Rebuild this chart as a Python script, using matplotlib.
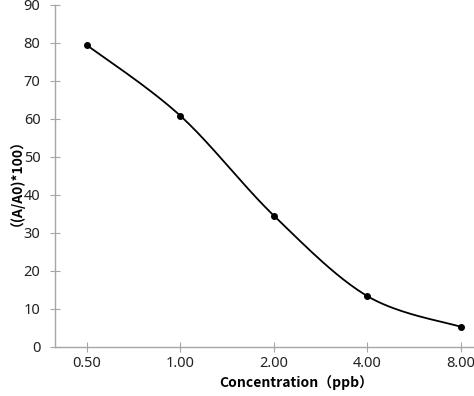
import numpy as np
import matplotlib
matplotlib.use('Agg')
import matplotlib.pyplot as plt

# dados
categorias = ['0.50', '1.00', '2.00', '4.00', '8.00']
valores = [79.5, 60.9, 34.6, 13.4, 5.3]


def curva_suave(x, y, n=40):
    # spline estilo Excel (bezier com pontos de controle catmull-rom)
    x = np.asarray(x, float)
    y = np.asarray(y, float)
    px = np.concatenate([[x[0]], x, [x[-1]]])
    py = np.concatenate([[y[0]], y, [y[-1]]])
    xs, ys = [], []
    t = np.linspace(0, 1, n)
    for i in range(1, len(px) - 2):
        p0 = np.array([px[i], py[i]])
        p3 = np.array([px[i + 1], py[i + 1]])
        p1 = p0 + (p3 - np.array([px[i - 1], py[i - 1]])) / 6.0
        p2 = p3 - (np.array([px[i + 2], py[i + 2]]) - p0) / 6.0
        b = ((1 - t) ** 3)[:, None] * p0 + (3 * (1 - t) ** 2 * t)[:, None] * p1 \
            + (3 * (1 - t) * t ** 2)[:, None] * p2 + (t ** 3)[:, None] * p3
        xs.extend(b[:, 0])
        ys.extend(b[:, 1])
    return np.array(xs), np.array(ys)


fig = plt.figure(figsize=(4.74, 3.96), dpi=100)
ax = fig.add_axes([55 / 474, 49 / 396, 1 - 55 / 474, 342 / 396])

pos = np.arange(len(categorias))
cx, cy = curva_suave(pos, valores)
ax.plot(cx, cy, color='black', lw=1.3)
ax.plot(pos, valores, 'o', color='black', ms=4)

ax.set_xlim(-0.337, 4.14)
ax.set_ylim(0, 90)
ax.set_yticks(range(0, 91, 10))
ax.set_xticks(pos)
ax.set_xticklabels(categorias)

cinza = '#a6a6a6'
for lado in ['top', 'right']:
    ax.spines[lado].set_visible(False)
for lado in ['left', 'bottom']:
    ax.spines[lado].set_color(cinza)
    ax.spines[lado].set_linewidth(1.0)
ax.tick_params(direction='inout', length=7, color=cinza, labelsize=10.5,
               labelcolor='#222222')
ax.tick_params(axis='y', pad=7)
ax.tick_params(axis='x', pad=3)
for rotulo in ax.get_xticklabels() + ax.get_yticklabels():
    rotulo.set_family('Noto Sans')

fonte = ['Noto Sans CJK SC', 'DejaVu Sans']
ax.set_xlabel('Concentration（ppb）', family=fonte, fontsize=10,
              fontweight='bold', labelpad=3, x=0.575)
ax.set_ylabel('（(A/A0)*100）', family=fonte, fontsize=10,
              fontweight='bold', labelpad=5)

fig.savefig('out.png', dpi=100)
